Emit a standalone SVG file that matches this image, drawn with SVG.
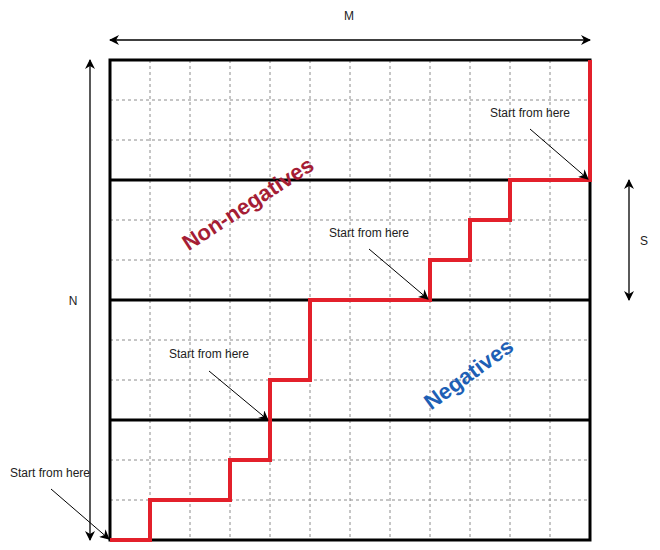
<svg xmlns="http://www.w3.org/2000/svg" width="660" height="550" viewBox="0 0 660 550">
  <style>
    .grid { stroke: #8c8c8c; stroke-width: 1; stroke-dasharray: 3 3; fill: none; }
    .thick { stroke: #000; stroke-width: 3; fill: none; }
    .path { stroke: #E3202B; stroke-width: 4; fill: none; stroke-linejoin: miter; }
    .dim { stroke: #000; stroke-width: 1.3; fill: none; }
    .ptr { stroke: #000; stroke-width: 1; fill: none; }
    .lbl { font-family: "Liberation Sans", Arial, sans-serif; font-size: 12px; fill: #222; }
    .big { font-family: "Liberation Sans", Arial, sans-serif; font-size: 22px; font-weight: bold; }
  </style>
  <defs>
    <marker id="ah" viewBox="0 0 10 10" refX="9" refY="5" markerWidth="10" markerHeight="10" markerUnits="userSpaceOnUse" orient="auto-start-reverse">
      <path d="M0,0 L10,5 L0,10 L3,5 Z" fill="#000"/>
    </marker>
  </defs>
  <rect width="660" height="550" fill="#fff"/>

  <g id="grid">
    <path class="grid" d="M150,60V540 M190,60V540 M230,60V540 M270,60V540 M310,60V540 M350,60V540 M390,60V540 M430,60V540 M470,60V540 M510,60V540 M550,60V540"/>
    <path class="grid" d="M110,100H590 M110,140H590 M110,220H590 M110,260H590 M110,340H590 M110,380H590 M110,460H590 M110,500H590"/>
    <path class="thick" d="M110,60H590V540H110Z M110,180H590 M110,300H590 M110,420H590"/>
  </g>

  <g id="staircase">
    <path class="path" d="M110,540 H150 V500 H230 V460 H270 V380 H310 V300 H430 V260 H470 V220 H510 V180 H590 V60"/>
  </g>

  <g id="connectors">
    <line class="dim" x1="110" y1="40" x2="590" y2="40" marker-start="url(#ah)" marker-end="url(#ah)"/>
    <line class="dim" x1="90" y1="60" x2="90" y2="540" marker-start="url(#ah)" marker-end="url(#ah)"/>
    <line class="dim" x1="629" y1="180" x2="629" y2="300" marker-start="url(#ah)" marker-end="url(#ah)"/>
    <line class="ptr" x1="530" y1="129" x2="588" y2="179" marker-end="url(#ah)"/>
    <line class="ptr" x1="369" y1="249" x2="428" y2="299" marker-end="url(#ah)"/>
    <line class="ptr" x1="209" y1="371" x2="268" y2="420" marker-end="url(#ah)"/>
    <line class="ptr" x1="51" y1="489" x2="109" y2="539" marker-end="url(#ah)"/>
  </g>

  <g id="labels">
    <text class="lbl" x="349" y="20" text-anchor="middle">M</text>
    <text class="lbl" x="73" y="305" text-anchor="middle">N</text>
    <text class="lbl" x="644" y="245" text-anchor="middle">S</text>
    <text class="lbl" x="530" y="117" text-anchor="middle">Start from here</text>
    <text class="lbl" x="369" y="237" text-anchor="middle">Start from here</text>
    <text class="lbl" x="209" y="358" text-anchor="middle">Start from here</text>
    <text class="lbl" x="50" y="477" text-anchor="middle">Start from here</text>
    <text class="big" fill="#A51D35" text-anchor="middle" transform="translate(252,210) rotate(-33)">Non-negatives</text>
    <text class="big" fill="#1E5FB5" text-anchor="middle" transform="translate(473,380) rotate(-36)">Negatives</text>
  </g>
</svg>
